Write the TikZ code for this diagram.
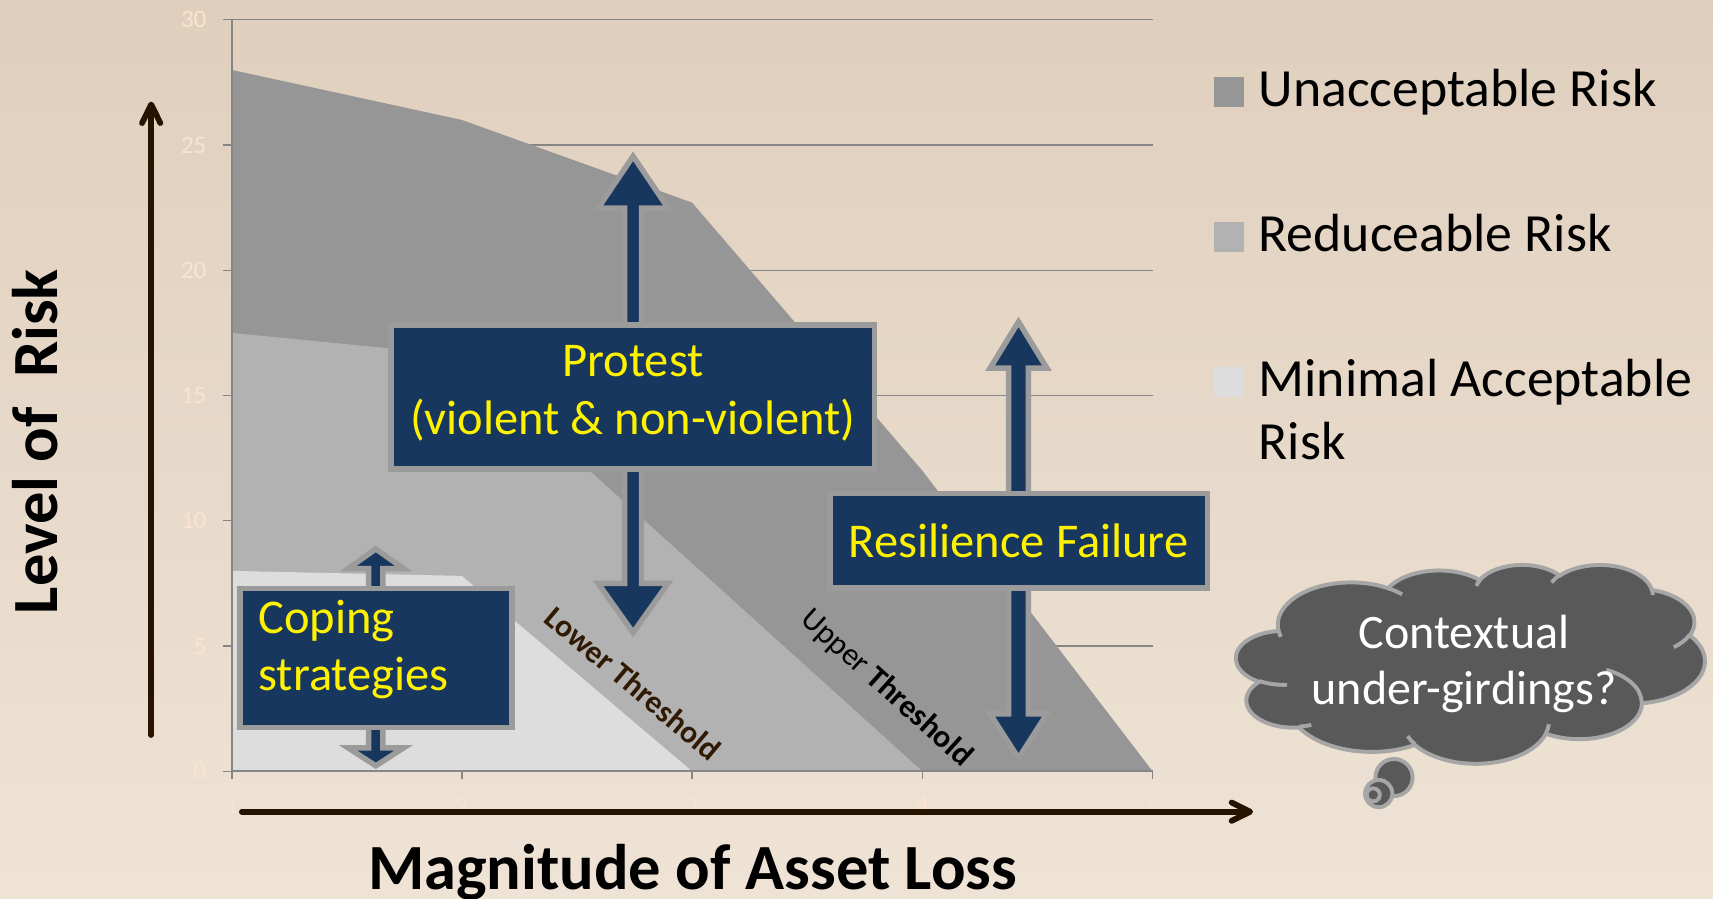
\documentclass[tikz,border=0pt]{standalone}
\usepackage{fontspec}
\setmainfont{Carlito}
\usetikzlibrary{arrows.meta}
\definecolor{bgtop}{RGB}{224,207,189}
\definecolor{bgbot}{RGB}{238,227,213}
\definecolor{unacc}{RGB}{150,150,150}
\definecolor{reduc}{RGB}{178,178,178}
\definecolor{minim}{RGB}{221,221,221}
\definecolor{gridc}{RGB}{134,134,134}
\definecolor{navy}{RGB}{23,55,94}
\definecolor{bordc}{RGB}{155,155,155}
\definecolor{cloudfill}{RGB}{89,89,89}
\definecolor{cloudline}{RGB}{166,166,166}
\definecolor{axisbrown}{RGB}{38,20,0}
\definecolor{ticklab}{RGB}{250,228,208}
\definecolor{lowerc}{RGB}{48,26,4}

\newcommand{\cldprep}[5]{%
  \pgfmathsetmacro{\cldtmpa}{atan2((#2)*sin(#4),(#3)*cos(#4))}%
  \pgfmathsetmacro{\cldtmpb}{atan2((#2)*sin((#4)+(#5)),(#3)*cos((#4)+(#5)))}%
  \pgfmathsetmacro{\cldtmpc}{mod((\cldtmpb)-(\cldtmpa)+720,360)}%
  \expandafter\xdef\csname cldS#1\endcsname{\cldtmpa}%
  \expandafter\xdef\csname cldD#1\endcsname{\cldtmpc}%
}

\begin{document}
\begin{tikzpicture}[x=0.5pt,y=-0.5pt,
  every node/.style={inner sep=0pt, outer sep=0pt},
  gridline/.style={draw=gridc, line width=0.6pt},
  axisline/.style={draw=gridc, line width=1pt},
  ticklabel/.style={text=ticklab, font=\fontsize{11.5}{13}\selectfont},
  navybox/.style={fill=navy, draw=bordc, line width=2.5pt},
  blockarrow/.style={fill=navy, draw=bordc, line width=2.5pt},
  boxtext/.style={text=yellow, font=\fontsize{22.2}{26}\selectfont},
  legtext/.style={text=black, font=\fontsize{24.6}{29}\selectfont, anchor=base west},
  axarrow/.style={draw=axisbrown, line width=2.65pt, line cap=round, -{Straight Barb[length=8.5pt,width=8.4pt,round]}},
  axtitle/.style={font=\bfseries\fontsize{29.5}{35}\selectfont, text=black},
  threshold/.style={font=\fontsize{14.5}{17}\selectfont},
  cloudsty/.style={fill=cloudfill, draw=cloudline, line width=1.8pt},
  creasesty/.style={draw=cloudline, line width=1.8pt},
  cloudtext/.style={text=white, font=\fontsize{22}{26}\selectfont, anchor=base},
]
\useasboundingbox (0,0) rectangle (1568,822);
\shade[top color=bgtop, bottom color=bgbot] (0,0) rectangle (1568,822);

% gridlines
\foreach \yy in {18.1,132.75,247.4,362.05,476.7,591.35}
  \draw[gridline] (212,\yy) -- (1055,\yy);
\foreach \yy in {18.1,132.75,247.4,362.05,476.7,591.35,706}
  \draw[gridline] (204.5,\yy) -- (212,\yy);

% areas
\fill[unacc] (212,706) -- (212,63.96) -- (422.75,109.82) -- (633.5,185.49) -- (844.25,430.84) -- (1055,706) -- cycle;
\fill[reduc] (212,706) -- (212,304.72) -- (422.75,325.36) -- (633.5,515.68) -- (844.25,706) -- cycle;
\fill[minim] (212,706) -- (212,522.56) -- (422.75,527.15) -- (633.5,706) -- cycle;

% axes
\draw[axisline] (212,18.1) -- (212,713.5);
\draw[axisline] (212,706) -- (1055,706);
\foreach \xx in {422.75,633.5,844.25,1055}
  \draw[gridline] (\xx,706) -- (\xx,713.5);

% tick labels
\foreach \yy/\lab in {18.1/30,132.75/25,247.4/20,362.05/15,476.7/10,591.35/5,706/0}
  \node[ticklabel, anchor=east] at (189,\yy) {\lab};
\foreach \xx/\lab in {212/1,422.75/2,633.5/3,844.25/4,1055/5}
  \node[ticklabel] at (\xx,737) {\lab};

% threshold labels
\node[threshold, text=lowerc, rotate=-40] (lowth) at (579.4,625.5) {\bfseries Lower Threshold};
\node[threshold, text=black, rotate=-42] (upth) at (811.3,630) {Upper \textbf{Threshold}};

% block arrows
\draw[blockarrow] (579.5,143) -- (611.5,190.5) -- (587.2,190.5) -- (587.2,534) -- (611.5,534) -- (579.5,579)
  -- (547.5,534) -- (571.8,534) -- (571.8,190.5) -- (547.5,190.5) -- cycle;
\draw[blockarrow] (932.3,294.6) -- (958.3,337) -- (941.3,337) -- (941.3,653.5) -- (958.3,653.5) -- (932.3,694)
  -- (906.3,653.5) -- (923.3,653.5) -- (923.3,337) -- (906.3,337) -- cycle;
\draw[blockarrow] (344,502.5) -- (369.5,520.5) -- (350.5,520.5) -- (350.5,684.5) -- (369.5,684.5) -- (344,701)
  -- (318.5,684.5) -- (337.5,684.5) -- (337.5,520.5) -- (318.5,520.5) -- cycle;

% boxes
\node[navybox, minimum width=221.35pt, minimum height=65.85pt] (protest) at (579.35,363.35) {};
\node[boxtext, anchor=base] (protestA) at (579.4,344.2) {Protest};
\node[boxtext, anchor=base] (protestB) at (579.4,397.6) {(violent \& non-violent)};

\node[navybox, minimum width=172.65pt, minimum height=43.3pt] (resil) at (932.45,494.9) {};
\node[boxtext, anchor=base] (resilT) at (932.4,510.1) {Resilience Failure};

\node[navybox, minimum width=124.45pt, minimum height=63.4pt] (coping) at (344.15,602.3) {};
\node[boxtext, anchor=base west] (copingA) at (236.5,579.7) {Coping};
\node[boxtext, anchor=base west] (copingB) at (236.5,631.6) {strategies};

% legend
\fill[unacc] (1111.2,70.8) rectangle (1138.7,97.6);
\fill[reduc] (1111.2,203.5) rectangle (1138.7,230.4);
\fill[minim] (1111.2,336.2) rectangle (1138.7,363.1);
\node[legtext] (legA) at (1152,97.6) {Unacceptable Risk};
\node[legtext] (legB) at (1152,230.4) {Reduceable Risk};
\node[legtext] (legC) at (1152,363.1) {Minimal Acceptable};
\node[legtext] (legD) at (1152,421) {Risk};

% axis arrows and titles
\coordinate (ybot) at (138.4,672.8);
\coordinate (ytop) at (138.4,93);
\coordinate (xleft) at (221.4,743);
\coordinate (xright) at (1147,743);
\draw[axarrow] (ybot) -- (ytop);
\draw[axarrow] (xleft) -- (xright);
\node[axtitle, rotate=90, anchor=base] (ytitle) at (52.5,404.3) {Level of \ Risk};
\node[axtitle, anchor=base] (xtitle) at (634,814.5) {Magnitude of Asset Loss};

% cloud
\cldprep{a}{67.53}{91.90}{-190.4875}{123.7805}
\cldprep{b}{53.33}{72.67}{-144.1024}{89.9452}
\cldprep{c}{43.65}{59.45}{-145.8079}{99.7230}
\cldprep{d}{48.57}{65.95}{-130.9861}{117.2417}
\cldprep{e}{53.33}{72.73}{-78.7089}{109.0269}
\cldprep{f}{67.75}{92.20}{-46.2673}{130.2690}
\cldprep{g}{57.85}{78.67}{0.6250}{114.0333}
\cldprep{h}{67.52}{92.15}{22.4516}{115.1726}
\cldprep{i}{77.20}{105.43}{66.2426}{75.7110}
\cldprep{j}{43.60}{59.18}{-274.9421}{146.7356}
\cldprep{k}{43.45}{59.45}{-246.8285}{152.5189}
\cldprep{ca}{43.45}{59.45}{86.7420}{26.4295}
\cldprep{cb}{43.60}{59.18}{73.6105}{11.4475}
\cldprep{cc}{67.52}{92.15}{137.6242}{14.0811}
\cldprep{cd}{67.52}{92.15}{6.4533}{15.9984}
\cldprep{ce}{57.85}{78.67}{-70.2924}{70.9174}
\cldprep{cf}{53.33}{72.73}{30.3180}{27.7515}
\cldprep{cg}{48.57}{65.95}{-13.7443}{14.8589}
\cldprep{ch}{48.57}{65.95}{-149.1815}{18.1954}
\cldprep{ci}{43.65}{59.45}{-163.4943}{17.6864}
\cldprep{cj}{67.53}{91.90}{-66.7070}{12.3194}
\cldprep{ck}{67.53}{91.90}{157.6544}{11.8582}

\begin{scope}[shift={(1131.5,516.5)}, x=0.4965pt, y=-0.21065pt]
\draw[cloudsty] (39,143.7)
  arc[start angle=\cldSa, delta angle=\cldDa, x radius=67.53, y radius=91.90]
  arc[start angle=\cldSb, delta angle=\cldDb, x radius=53.33, y radius=72.67]
  arc[start angle=\cldSc, delta angle=\cldDc, x radius=43.65, y radius=59.45]
  arc[start angle=\cldSd, delta angle=\cldDd, x radius=48.57, y radius=65.95]
  arc[start angle=\cldSe, delta angle=\cldDe, x radius=53.33, y radius=72.73]
  arc[start angle=\cldSf, delta angle=\cldDf, x radius=67.75, y radius=92.20]
  arc[start angle=\cldSg, delta angle=\cldDg, x radius=57.85, y radius=78.67]
  arc[start angle=\cldSh, delta angle=\cldDh, x radius=67.52, y radius=92.15]
  arc[start angle=\cldSi, delta angle=\cldDi, x radius=77.20, y radius=105.43]
  arc[start angle=\cldSj, delta angle=\cldDj, x radius=43.60, y radius=59.18]
  arc[start angle=\cldSk, delta angle=\cldDk, x radius=43.45, y radius=59.45]
  -- cycle;
\draw[creasesty]
  (46.93,261.77) arc[start angle=\cldSca, delta angle=\cldDca, x radius=43.45, y radius=59.45]
  (69.28,348.99) arc[start angle=\cldScb, delta angle=\cldDcb, x radius=43.60, y radius=59.18]
  (164.78,390.90) arc[start angle=\cldScc, delta angle=\cldDcc, x radius=67.52, y radius=92.15]
  (288.27,347.51) arc[start angle=\cldScd, delta angle=\cldDcd, x radius=67.52, y radius=92.15]
  (341.29,229.54) arc[start angle=\cldSce, delta angle=\cldDce, x radius=57.85, y radius=78.67]
  (417.98,153.54) arc[start angle=\cldScf, delta angle=\cldDcf, x radius=53.33, y radius=72.73]
  (383.24,54.26) arc[start angle=\cldScg, delta angle=\cldDcg, x radius=48.57, y radius=65.95]
  (290.78,39.52) arc[start angle=\cldSch, delta angle=\cldDch, x radius=48.57, y radius=65.95]
  (221.41,47.20) arc[start angle=\cldSci, delta angle=\cldDci, x radius=43.65, y radius=59.45]
  (140.00,51.92) arc[start angle=\cldScj, delta angle=\cldDcj, x radius=67.53, y radius=91.90]
  (41.27,157.89) arc[start angle=\cldSck, delta angle=\cldDck, x radius=67.53, y radius=91.90];
\end{scope}
\draw[cloudsty] (1276,711.7) circle[radius=17];
\draw[cloudsty] (1262,726.4) circle[radius=12.5];
\draw[cloudsty] (1257,727.6) circle[radius=6];
\node[cloudtext] (cloudA) at (1340,593.4) {Contextual};
\node[cloudtext] (cloudB) at (1340,645.3) {under-girdings?};
\end{tikzpicture}
\end{document}
